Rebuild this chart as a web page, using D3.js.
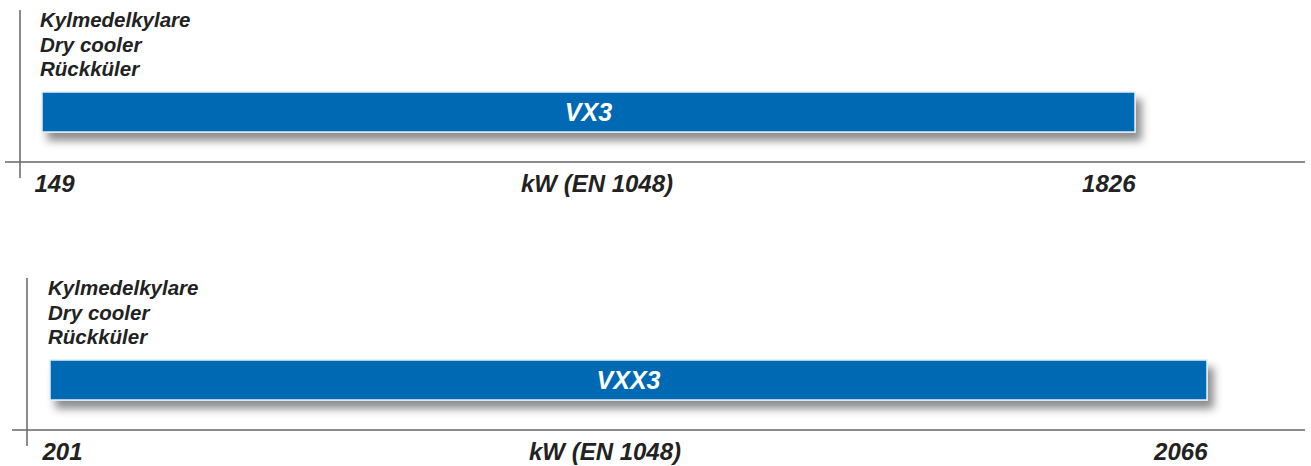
<!DOCTYPE html>
<html>
<head>
<meta charset="utf-8">
<script src="https://cdnjs.cloudflare.com/ajax/libs/d3/7.8.5/d3.min.js"></script>
<style>
    body { margin: 0; background: #fff; }
    svg text { font-family: "Liberation Sans", Arial, sans-serif; font-weight: bold; font-style: italic; }
</style>
</head>
<body>
<div id="chart"></div>
<script>
// capacity ranges per unit
var products = ['VX3', 'VXX3'];
var minKW = [149, 201];
var maxKW = [1826, 2066];
var typeLabels = ['Kylmedelkylare', 'Dry cooler', 'R\u00fcckk\u00fcler'];
var axisLabel = 'kW (EN 1048)';

// layout for each panel
var panels = [
    {top: 0, left: 42, right: 1135, vline: 20, axisStart: 5},
    {top: 268, left: 50, right: 1207, vline: 27, axisStart: 12}
];

var svg = d3.select('#chart').append('svg')
    .attr('width', 1311)
    .attr('height', 466);

var defs = svg.append('defs');
var f = defs.append('filter')
    .attr('id', 'shadow')
    .attr('x', '-5%').attr('y', '-50%')
    .attr('width', '110%').attr('height', '200%');
f.append('feDropShadow')
    .attr('dx', 6)
    .attr('dy', 8)
    .attr('stdDeviation', 4)
    .attr('flood-color', '#000')
    .attr('flood-opacity', 0.45);

products.forEach(function (name, i) {
    var p = panels[i];
    var g = svg.append('g').attr('transform', 'translate(0,' + p.top + ')');

    var x = d3.scaleLinear()
        .domain([minKW[i], maxKW[i]])
        .range([p.left, p.right]);

    var barTop = 92, barH = 40, axisY = 162;

    // vertical + horizontal rule
    g.append('line')
        .attr('x1', p.vline).attr('x2', p.vline)
        .attr('y1', 10).attr('y2', 178)
        .attr('stroke', '#666').attr('stroke-width', 1.5);
    g.append('line')
        .attr('x1', p.axisStart).attr('x2', 1305)
        .attr('y1', axisY).attr('y2', axisY)
        .attr('stroke', '#666').attr('stroke-width', 1.5);

    g.selectAll('.type')
        .data(typeLabels)
        .enter().append('text')
        .attr('x', p.left - 2)
        .attr('y', function (d, j) { return 27 + j * 24.5; })
        .attr('font-size', 20.5)
        .attr('fill', '#222')
        .text(function (d) { return d; });

    g.append('rect')
        .attr('x', x(minKW[i]))
        .attr('y', barTop)
        .attr('width', x(maxKW[i]) - x(minKW[i]))
        .attr('height', barH)
        .attr('fill', '#0069b4')
        .attr('stroke', '#e3eef8')
        .attr('stroke-width', 1.5)
        .attr('filter', 'url(#shadow)');

    g.append('text')
        .attr('x', (x(minKW[i]) + x(maxKW[i])) / 2)
        .attr('y', barTop + barH / 2 + 9)
        .attr('text-anchor', 'middle')
        .attr('font-size', 25)
        .attr('fill', '#fff')
        .text(name);

    var ax = g.append('g')
        .attr('transform', 'translate(0,' + axisY + ')')
        .call(d3.axisBottom(x)
            .tickValues([minKW[i], maxKW[i]])
            .tickSize(0)
            .tickFormat(d3.format('d')));
    ax.select('.domain').remove();
    ax.selectAll('text')
        .attr('y', 30)
        .attr('dy', 0)
        .attr('font-size', 24)
        .attr('fill', '#222')
        .attr('font-family', null)
        .attr('text-anchor', function (d, j) { return j === 0 ? 'start' : 'end'; })
        .attr('dx', function (d, j) { return j === 0 ? -8 : 0; });

    g.append('text')
        .attr('x', p.left + 555)
        .attr('y', axisY + 30)
        .attr('text-anchor', 'middle')
        .attr('font-size', 24)
        .attr('fill', '#222')
        .text(axisLabel);
});
</script>
</body>
</html>
